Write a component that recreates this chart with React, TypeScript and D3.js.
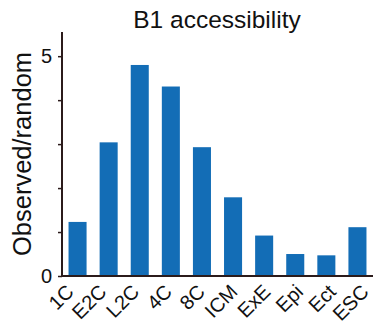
import React, { useEffect, useRef } from 'react';
import * as d3 from 'd3';

// stages along the x axis
const stages = ['1C', 'E2C', 'L2C', '4C', '8C', 'ICM', 'ExE', 'Epi', 'Ect', 'ESC'];
// observed / random ratio per stage
const ratios = [1.23, 3.04, 4.8, 4.31, 2.93, 1.79, 0.92, 0.5, 0.47, 1.11];
const yTicks = [0, 1, 2, 3, 4, 5];
const yTickLabels = ['0', '', '', '', '', '5'];

export default function App() {
  const svgRef = useRef<SVGSVGElement | null>(null);

  useEffect(() => {
    const font = '"Liberation Sans", Arial, Helvetica, sans-serif';
    const axisColor = '#2b1b1b';

    const svg = d3.select(svgRef.current);
    svg.selectAll('*').remove();

    const x = d3.scaleBand<string>()
      .domain(stages)
      .range([62, 373])
      .paddingInner(0.42)
      .paddingOuter(0.21);

    // category labels sit on a slightly wider spacing than the bars
    const xLabel = d3.scalePoint<string>()
      .domain(stages)
      .range([75, 370]);

    const y = d3.scaleLinear()
      .domain([0, 5.55])
      .range([276, 32]);

    // bars
    svg.append('g')
      .selectAll('rect')
      .data(stages)
      .join('rect')
      .attr('x', d => x(d)!)
      .attr('width', x.bandwidth())
      .attr('y', (d, i) => y(ratios[i]))
      .attr('height', (d, i) => y(0) - y(ratios[i]))
      .attr('fill', '#136db6');

    // y axis
    const yAxis = d3.axisLeft(y)
      .tickValues(yTicks)
      .tickSize(4)
      .tickPadding(6)
      .tickFormat((d, i) => yTickLabels[i]);

    const gy = svg.append('g')
      .attr('transform', 'translate(62,0)')
      .call(yAxis);
    gy.select('.domain')
      .attr('d', `M0,${y(5.55)}V${y(0)}`)
      .attr('stroke', axisColor)
      .attr('stroke-width', 2);
    gy.selectAll('.tick line').attr('stroke', axisColor).attr('stroke-width', 1.5);
    gy.selectAll('.tick text')
      .attr('fill', '#111')
      .style('font-family', font)
      .style('font-size', '20px');

    // x axis
    svg.append('line')
      .attr('x1', 61)
      .attr('x2', 373)
      .attr('y1', y(0))
      .attr('y2', y(0))
      .attr('stroke', axisColor)
      .attr('stroke-width', 2);

    svg.append('g')
      .selectAll('text')
      .data(stages)
      .join('text')
      .attr('transform', d => `translate(${xLabel(d)},${y(0) + 17}) rotate(-45)`)
      .attr('text-anchor', 'end')
      .attr('fill', '#111')
      .style('font-family', font)
      .style('font-size', '20px')
      .text(d => d);

    // title
    svg.append('text')
      .attr('x', 217)
      .attr('y', 28)
      .attr('text-anchor', 'middle')
      .attr('fill', '#111')
      .style('font-family', font)
      .style('font-size', '24.5px')
      .text('B1 accessibility');

    // y label
    svg.append('text')
      .attr('transform', `translate(31,${(y(0) + 32) / 2}) rotate(-90)`)
      .attr('text-anchor', 'middle')
      .attr('fill', '#111')
      .style('font-family', font)
      .style('font-size', '25.5px')
      .text('Observed/random');
  }, []);

  return (
    <svg
      ref={svgRef}
      width={374}
      height={324}
      style={{ position: 'absolute', left: 0, top: 0, background: '#fff' }}
    ></svg>
  );
}
